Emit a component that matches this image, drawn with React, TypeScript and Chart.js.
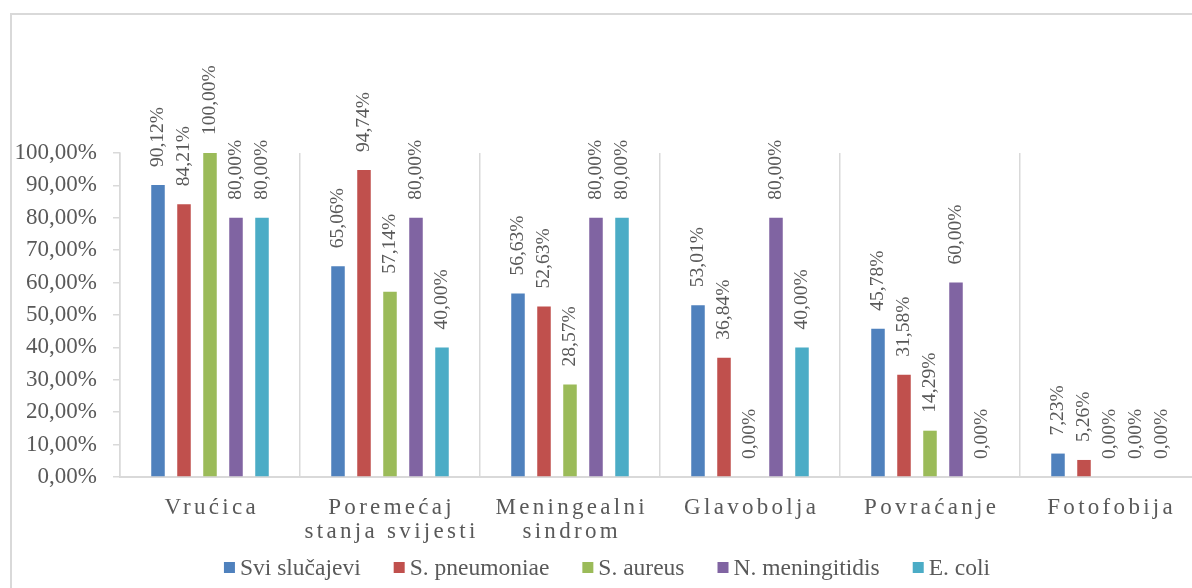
import React, { useEffect, useRef } from "react";
import { Chart, registerables } from "chart.js";

Chart.register(...registerables);

const categories: string[][] = [
  ["Vrućica"],
  ["Poremećaj", "stanja svijesti"],
  ["Meningealni", "sindrom"],
  ["Glavobolja"],
  ["Povraćanje"],
  ["Fotofobija"],
];

const seriesNames = ["Svi slučajevi", "S. pneumoniae", "S. aureus", "N. meningitidis", "E. coli"];
const sviSlucajevi = [90.12, 65.06, 56.63, 53.01, 45.78, 7.23];
const sPneumoniae = [84.21, 94.74, 52.63, 36.84, 31.58, 5.26];
const sAureus = [100.0, 57.14, 28.57, 0.0, 14.29, 0.0];
const nMeningitidis = [80.0, 80.0, 80.0, 80.0, 60.0, 0.0];
const eColi = [80.0, 40.0, 80.0, 40.0, 0.0, 0.0];
const seriesColors = ["#4F81BD", "#C0504D", "#9BBB59", "#8064A2", "#4BACC6"];

const yMin = 0;
const yMax = 100;
const yStep = 10;

const FONT = '"Liberation Serif", "Times New Roman", serif';
const TEXT = "#595959";
const GRID = "#d9d9d9";

const fmt = (v: number) => v.toFixed(2).replace(".", ",") + "%";

const CW = 1190;
const CH = 576;

const dataLabelPlugin = {
  id: "dataLabelsRot",
  afterDatasetsDraw(chart: any) {
    const ctx = chart.ctx;
    ctx.save();
    ctx.font = `19.5px ${FONT}`;
    ctx.fillStyle = TEXT;
    ctx.textAlign = "left";
    ctx.textBaseline = "middle";
    chart.data.datasets.forEach((ds: any, di: number) => {
      const meta = chart.getDatasetMeta(di);
      meta.data.forEach((bar: any, i: number) => {
        const v = ds.data[i];
        ctx.save();
        ctx.translate(bar.x, bar.y - 18);
        ctx.rotate(-Math.PI / 2);
        ctx.fillText(fmt(v), 0, 0);
        ctx.restore();
      });
    });
    ctx.restore();
  },
};

const xLabelPlugin = {
  id: "xLabelsSpaced",
  afterDraw(chart: any) {
    const ctx = chart.ctx;
    const xs = chart.scales.x;
    const ls = 3.3;
    ctx.save();
    ctx.font = `23px ${FONT}`;
    ctx.fillStyle = TEXT;
    ctx.textAlign = "center";
    ctx.textBaseline = "alphabetic";
    (ctx as any).letterSpacing = `${ls}px`;
    const base = chart.chartArea.bottom + 37;
    categories.forEach((lines, i) => {
      const x = xs.getPixelForValue(i) + ls / 2;
      lines.forEach((line, li) => {
        ctx.fillText(line, x, base + li * 24);
      });
    });
    ctx.restore();
  },
};

const legendPlugin = {
  id: "customLegend",
  afterDraw(chart: any) {
    const ctx = chart.ctx;
    ctx.save();
    ctx.font = `23.5px ${FONT}`;
    ctx.textBaseline = "alphabetic";
    ctx.textAlign = "left";
    const box = 11;
    const gap = 5;
    const itemGap = 33;
    const widths = seriesNames.map((n) => box + gap + ctx.measureText(n).width);
    const total = widths.reduce((a, b) => a + b, 0) + itemGap * (seriesNames.length - 1);
    let x = chart.width / 2 - total / 2;
    const baseline = chart.chartArea.bottom + 98;
    seriesNames.forEach((n, i) => {
      ctx.fillStyle = seriesColors[i];
      ctx.fillRect(x, baseline - 13, box, box);
      ctx.fillStyle = TEXT;
      ctx.fillText(n, x + box + gap, baseline);
      x += widths[i] + itemGap;
    });
    ctx.restore();
  },
};

export default function App() {
  const ref = useRef<HTMLCanvasElement | null>(null);

  useEffect(() => {
    if (!ref.current) return;
    let chart: Chart | null = null;
    let cancelled = false;
    const all = [sviSlucajevi, sPneumoniae, sAureus, nMeningitidis, eColi];
    const build = () => {
      if (cancelled || !ref.current) return;
      chart = new Chart(ref.current, {
        type: "bar",
        data: {
          labels: categories.map((c) => c.join(" ")),
          datasets: all.map((d, i) => ({
            label: seriesNames[i],
            data: d,
            backgroundColor: seriesColors[i],
            borderWidth: 0,
            categoryPercentage: 0.7222,
            barPercentage: 0.52,
          })),
        },
        options: {
          responsive: false,
          animation: false,
          devicePixelRatio: 1,
          layout: { padding: { top: 138, right: 2, bottom: 0, left: 0 } },
          plugins: {
            legend: { display: false },
            tooltip: { enabled: false },
            title: { display: false },
          },
          scales: {
            x: {
              grid: {
                display: true,
                offset: true,
                color: GRID,
                lineWidth: 1.5,
                drawTicks: false,
                drawOnChartArea: true,
              },
              border: { display: true, color: GRID, width: 2 },
              ticks: { display: false },
              afterFit: (s: any) => {
                s.height = 114;
              },
            },
            y: {
              min: yMin,
              max: yMax,
              ticks: {
                stepSize: yStep,
                color: TEXT,
                font: { family: FONT, size: 23 },
                padding: 16,
                callback: (v: any) => fmt(Number(v)),
              },
              grid: {
                display: true,
                drawOnChartArea: false,
                drawTicks: true,
                tickLength: 7,
                color: GRID,
                lineWidth: 1.5,
              },
              border: { display: true, color: GRID, width: 1.5 },
              afterFit: (s: any) => {
                s.width = 108;
              },
            },
          },
        },
        plugins: [dataLabelPlugin, xLabelPlugin, legendPlugin],
      });
    };
    const fonts: any = (document as any).fonts;
    if (fonts && fonts.load) {
      Promise.all([
        fonts.load('23px "Liberation Serif"'),
        fonts.load('19.5px "Liberation Serif"'),
      ])
        .catch(() => null)
        .then(build);
    } else {
      build();
    }
    return () => {
      cancelled = true;
      if (chart) chart.destroy();
    };
  }, []);

  return (
    <div
      style={{
        position: "fixed",
        left: 0,
        top: 0,
        width: "100vw",
        height: "100vh",
        overflow: "hidden",
        background: "#fff",
        fontFamily: FONT,
      }}
    >
      <span style={{ position: "absolute", left: -1000, top: -1000, fontFamily: FONT }}>
        Svi slučajevi
      </span>
      <div
        style={{
          position: "absolute",
          left: 10,
          top: 13,
          width: 1210,
          height: 600,
          borderLeft: `2px solid ${GRID}`,
          borderTop: `2px solid ${GRID}`,
        }}
      >
        <canvas
          ref={ref}
          width={CW}
          height={CH}
          style={{ display: "block", width: CW, height: CH }}
        />
      </div>
    </div>
  );
}
